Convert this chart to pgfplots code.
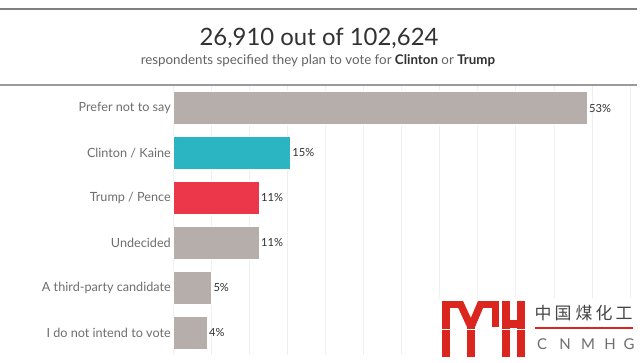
\documentclass[border=0pt]{standalone}
\usepackage{pgfplots}
\pgfplotsset{compat=1.18}
\usepackage{fontspec}
\setmainfont{Lato}
\newfontfamily\cjk{Noto Sans CJK SC}
\definecolor{barGray}{RGB}{182,174,170}
\definecolor{barTeal}{RGB}{43,180,193}
\definecolor{barRed}{RGB}{236,55,74}
\definecolor{lineGray}{RGB}{128,128,128}
\definecolor{labelGray}{RGB}{110,110,110}
\definecolor{titleGray}{RGB}{50,50,50}
\definecolor{gridGray}{RGB}{240,240,240}
\definecolor{logoRed}{RGB}{218,38,30}
\begin{document}
\begin{tikzpicture}[x=1bp,y=1bp]
\path[use as bounding box, fill=white] (0,0) rectangle (640,362);
\draw[line width=2bp, lineGray] (0,353) -- (637,353);
\draw[line width=2bp, lineGray!80] (0,277) -- (637,277);
\node[font=\fontsize{24}{27}\selectfont, text=titleGray] at (319,324) {26,910 out of 102,624};
\node[font=\fontsize{13.4}{15}\selectfont, text=labelGray!90!black] at (318,301) {respondents specified they plan to vote for \textcolor{titleGray}{\textbf{Clinton}} or \textcolor{titleGray}{\textbf{Trump}}};
\begin{axis}[
  at={(173bp,7bp)}, anchor=south west,
  scale only axis, width=467bp, height=269bp,
  xmin=0, xmax=59.8, ymin=-0.49, ymax=5.5,
  y dir=reverse,
  xbar, bar width=33bp, bar shift=0pt,
  axis line style={draw=none},
  major tick length=0pt,
  xtick={0,4.878,9.756,14.634,19.512,24.39,29.268,34.146,39.024,43.902,48.78,53.658,58.536},
  xticklabels={},
  xmajorgrids, grid style={gridGray, line width=0.8bp},
  ytick={0,1,2,3,4,5},
  yticklabels={Prefer not to say,Clinton / Kaine,Trump / Pence,Undecided,A third-party candidate,I do not intend to vote},
  yticklabel style={font=\fontsize{12.7}{14}\selectfont, text=labelGray, inner xsep=2bp},
  point meta=explicit symbolic,
  nodes near coords,
  nodes near coords style={font=\fontsize{11.2}{13}\selectfont, text=titleGray, anchor=west, inner xsep=2bp},
]
\addplot[fill=barGray, draw=white, line width=0.5bp] coordinates {(53.0,0) [53\%] (11.0,3) [11\%] (4.9,4) [5\%] (4.35,5) [4\%]};
\addplot[fill=barTeal, draw=white, line width=0.5bp] coordinates {(15.0,1) [15\%]};
\addplot[fill=barRed, draw=white, line width=0.5bp] coordinates {(11.0,2) [11\%]};
\end{axis}
% watermark logo
\fill[white] (436,0) rectangle (640,64);
\fill[logoRed] (442,5) rectangle (450,61);
\fill[logoRed] (442,54) rectangle (463,61);
\fill[logoRed] (455,61) -- (463,61) -- (475,35) -- (467,35) -- cycle;
\fill[logoRed] (478,61) -- (486,61) -- (475,35) -- (467,35) -- cycle;
\fill[logoRed] (467,5) rectangle (475,36);
\fill[logoRed] (478,54) rectangle (499,61);
\fill[logoRed] (492,35) rectangle (499,61);
\fill[logoRed] (502,5) rectangle (510,61);
\fill[logoRed] (517,5) rectangle (525,61);
\fill[logoRed] (502,34) rectangle (525,42);
\draw[white, line width=1bp] (438,33) -- (528,33);
\foreach \c/\x in {中/543,国/563,煤/584,化/604,工/624}{
  \node[font=\cjk\fontsize{17}{18}\selectfont, text=titleGray!90] at (\x,49) {\c};
}
\draw[logoRed, line width=1.5bp] (535,34) -- (633,34);
\foreach \c/\x in {C/542,N/565,M/588,H/610,G/629}{
  \node[font=\fontsize{15}{16}\selectfont, text=labelGray] at (\x,18) {\c};
}
\end{tikzpicture}
\end{document}
